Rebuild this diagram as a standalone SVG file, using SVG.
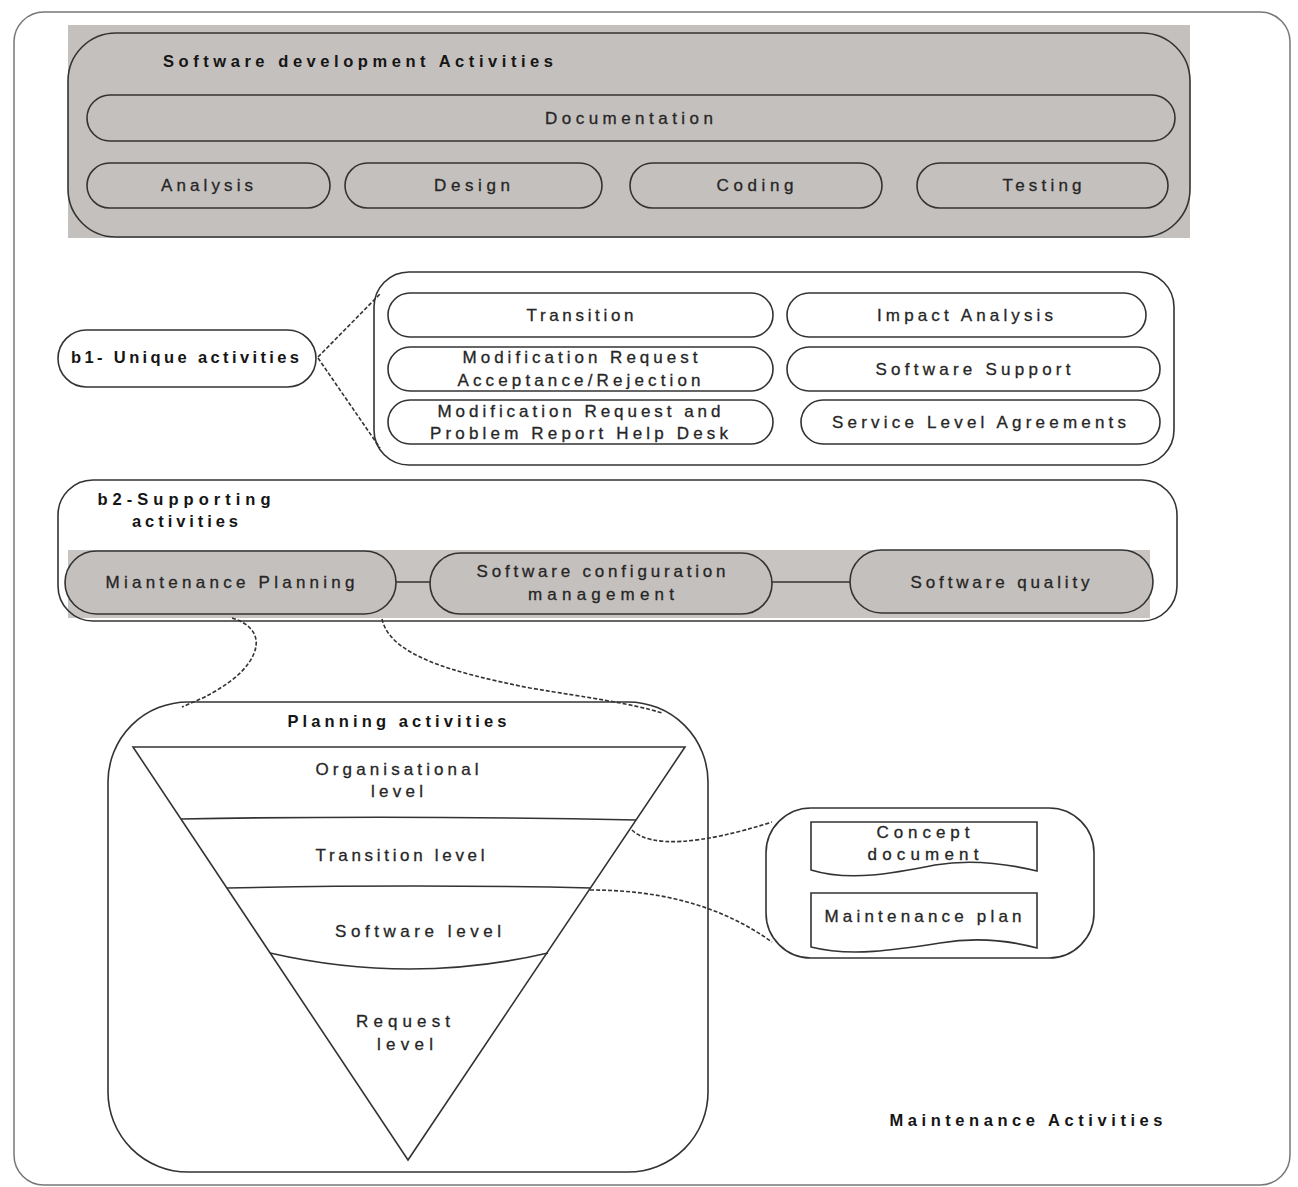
<svg xmlns="http://www.w3.org/2000/svg" width="1298" height="1187" viewBox="0 0 1298 1187">
<style>
text{font-family:"Liberation Sans",Arial,sans-serif;font-size:17px;fill:#262626;text-anchor:middle;stroke:#262626;stroke-width:0.3}
.b{font-weight:bold;fill:#151515;stroke:none;font-size:16.5px}
.ol{fill:none;stroke:#333;stroke-width:1.6}
.pill{fill:none;stroke:#333;stroke-width:1.6}
.wp{fill:#fff;stroke:#333;stroke-width:1.6}
.dash{fill:none;stroke:#333;stroke-width:1.6;stroke-dasharray:4 2}
.ln{fill:none;stroke:#333;stroke-width:1.6}
</style>
<rect width="1298" height="1187" fill="#ffffff"/>
<g id="frame">
<rect x="14" y="12" width="1276" height="1173" rx="30" fill="none" stroke="#777" stroke-width="1.5"/>
<text class="b" x="1026" y="1126" textLength="273" lengthAdjust="spacing">Maintenance Activities</text>
</g>
<g id="dev">
<rect x="68" y="25" width="1122" height="213" fill="#c4c0bd"/>
<rect x="68" y="33" width="1122" height="204" rx="48" class="ol"/>
<text class="b" x="358" y="67" textLength="390" lengthAdjust="spacing">Software development Activities</text>
</g>
<g id="documentation"><rect x="87" y="95" width="1088" height="46" rx="23" class="pill"/><text x="629" y="124" textLength="168" lengthAdjust="spacing">Documentation</text></g>
<g id="analysis"><rect x="87" y="163" width="243" height="45" rx="22.5" class="pill"/><text x="207" y="191" textLength="92" lengthAdjust="spacing">Analysis</text></g>
<g id="design"><rect x="345" y="163" width="257" height="45" rx="22.5" class="pill"/><text x="472" y="191" textLength="76" lengthAdjust="spacing">Design</text></g>
<g id="coding"><rect x="630" y="163" width="252" height="45" rx="22.5" class="pill"/><text x="755" y="191" textLength="77" lengthAdjust="spacing">Coding</text></g>
<g id="testing"><rect x="917" y="163" width="251" height="45" rx="22.5" class="pill"/><text x="1042" y="191" textLength="79" lengthAdjust="spacing">Testing</text></g>

<g id="unique-box"><rect x="374" y="272" width="800" height="193" rx="35" class="ol"/></g>
<g id="b1"><rect x="58" y="330" width="258" height="57" rx="28.5" class="wp"/><text class="b" x="185" y="363" textLength="228" lengthAdjust="spacing">b1- Unique activities</text></g>
<g id="transition"><rect x="388" y="293" width="385" height="44" rx="22" class="pill"/><text x="580" y="321" textLength="107" lengthAdjust="spacing">Transition</text></g>
<g id="impact"><rect x="787" y="293" width="359" height="44" rx="22" class="pill"/><text x="965" y="321" textLength="176" lengthAdjust="spacing">Impact Analysis</text></g>
<g id="mr-accept"><rect x="388" y="347" width="385" height="44" rx="22" class="pill"/><text x="580" y="363" textLength="235" lengthAdjust="spacing">Modification Request</text><text x="579" y="386" textLength="243" lengthAdjust="spacing">Acceptance/Rejection</text></g>
<g id="support"><rect x="787" y="347" width="373" height="44" rx="22" class="pill"/><text x="973" y="375" textLength="195" lengthAdjust="spacing">Software Support</text></g>
<g id="mr-helpdesk"><rect x="388" y="400" width="385" height="44" rx="22" class="pill"/><text x="579" y="417" textLength="283" lengthAdjust="spacing">Modification Request and</text><text x="579" y="439" textLength="298" lengthAdjust="spacing">Problem Report Help Desk</text></g>
<g id="sla"><rect x="801" y="400" width="359" height="44" rx="22" class="pill"/><text x="979" y="428" textLength="294" lengthAdjust="spacing">Service Level Agreements</text></g>

<g id="b2">
<rect x="68" y="550" width="1082" height="68" fill="#c8c4c1"/>
<rect x="58" y="480" width="1119" height="141" rx="35" class="ol"/>
<text class="b" x="184" y="505" textLength="173" lengthAdjust="spacing">b2-Supporting</text>
<text class="b" x="185" y="527" textLength="106" lengthAdjust="spacing">activities</text>
</g>
<g id="planning-pill"><rect x="65" y="551" width="331" height="63" rx="31.5" fill="#c4c0bd" stroke="#333" stroke-width="1.6"/><text x="230" y="588" textLength="249" lengthAdjust="spacing">Miantenance Planning</text></g>
<g id="scm"><rect x="430" y="553" width="342" height="61" rx="30.5" fill="#c4c0bd" stroke="#333" stroke-width="1.6"/><text x="601" y="577" textLength="249" lengthAdjust="spacing">Software configuration</text><text x="601" y="600" textLength="146" lengthAdjust="spacing">management</text></g>
<g id="quality"><rect x="850" y="550" width="303" height="63" rx="31.5" fill="#c4c0bd" stroke="#333" stroke-width="1.6"/><text x="1000" y="588" textLength="179" lengthAdjust="spacing">Software quality</text></g>

<g id="planning-box">
<rect x="108" y="702" width="600" height="470" rx="80" class="ol"/>
<text class="b" x="397" y="727" textLength="219" lengthAdjust="spacing">Planning activities</text>
<path class="ln" d="M133,747 L685,747 L408,1160 Z"/>
<path class="ln" d="M181,819 Q400,815 636,820"/>
<path class="ln" d="M227,888 Q420,884 591,888"/>
<path class="ln" d="M270,953 Q410,985 548,953"/>
<text x="397" y="775" textLength="163" lengthAdjust="spacing">Organisational</text>
<text x="397" y="797" textLength="52" lengthAdjust="spacing">level</text>
<text x="400" y="861" textLength="169" lengthAdjust="spacing">Transition level</text>
<text x="418" y="937" textLength="166" lengthAdjust="spacing">Software  level</text>
<text x="403" y="1027" textLength="94" lengthAdjust="spacing">Request</text>
<text x="405" y="1050" textLength="56" lengthAdjust="spacing">level</text>
</g>

<g id="outputs">
<rect x="766" y="808" width="328" height="150" rx="45" class="ol"/>
<path class="ln" d="M811,822 H1037 V871 C1000,862 965,860 935,865 C895,873 850,882 811,870 Z"/>
<text x="923" y="838" textLength="93" lengthAdjust="spacing">Concept</text>
<text x="923" y="860" textLength="111" lengthAdjust="spacing">document</text>
<path class="ln" d="M811,893 H1037 V948 C1000,938 970,938 940,943 C895,950 850,957 811,947 Z"/>
<text x="923" y="922" textLength="197" lengthAdjust="spacing">Maintenance plan</text>
</g>

<g id="connectors">
<path class="dash" d="M318,357 L380,294"/>
<path class="dash" d="M318,358 L380,448"/>
<path class="ln" d="M396,582 H430"/>
<path class="ln" d="M772,582 H850"/>
<path class="dash" d="M232,618 C270,630 258,660 232,680 C212,695 198,700 182,707"/>
<path class="dash" d="M382,619 C390,655 450,672 530,688 C590,698 630,703 662,713"/>
<path class="dash" d="M632,830 C650,848 700,845 772,822"/>
<path class="dash" d="M590,890 C660,890 720,905 772,942"/>
</g>
</svg>
